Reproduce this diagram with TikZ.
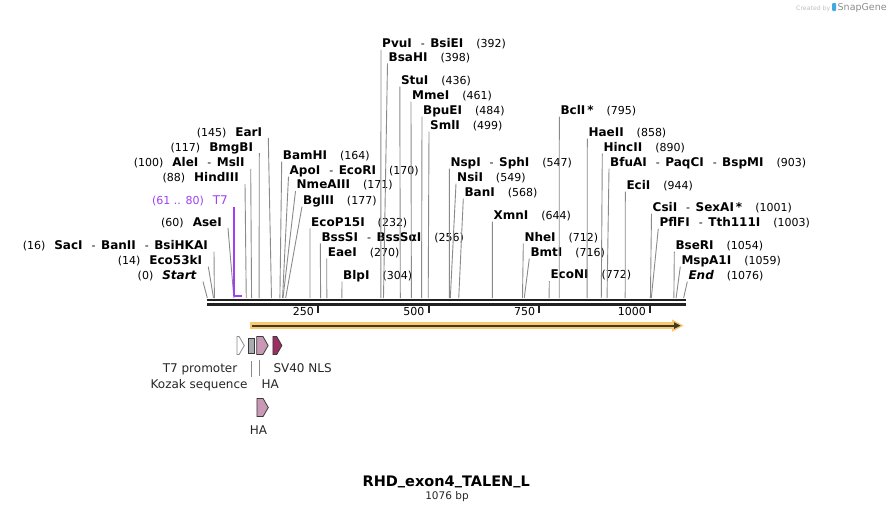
\documentclass[tikz,border=0pt]{standalone}
\usepackage{fontspec}
\setmainfont{DejaVu Sans}
\usetikzlibrary{shapes.symbols}
\definecolor{mapDark}{HTML}{222222}
\definecolor{siteGray}{HTML}{8A8A8A}
\definecolor{t7Purple}{HTML}{A040F0}
\definecolor{orfLight}{HTML}{FAC96E}
\definecolor{orfDark}{HTML}{40392E}
\definecolor{kozakGray}{HTML}{A7ACB3}
\definecolor{haPink}{HTML}{C998B4}
\definecolor{nlsPlum}{HTML}{9B2D63}
\definecolor{featEdge}{HTML}{3A3A3A}
\definecolor{labelText}{HTML}{262626}
\definecolor{snapBlue}{HTML}{3FA9E0}
\newcommand{\numf}{\mdseries\fontsize{11}{13}\selectfont}
\newcommand{\dsep}{\hspace{9pt}{\numf -}\hspace{5.5pt}}
\newcommand{\posr}[1]{\hspace{13pt}{\numf(#1)}}
\newcommand{\posl}[1]{{\numf(#1)}\hspace{9pt}}
\newcommand{\usc}{\raisebox{2.2pt}{\_}}

\begin{document}
\begin{tikzpicture}[x=1pt, y=-1pt,
    en/.style={font=\bfseries\fontsize{12}{14}\selectfont, inner ysep=0pt,
      text height=9pt, text depth=2pt},
    rs/.style={en, anchor=base west, inner xsep=1pt},
    ls/.style={en, anchor=base east, inner xsep=6pt},
    tk/.style={siteGray, line width=0.9pt},
    tick/.style={mapDark, line width=1.8pt},
    feat/.style={signal, signal to=east, signal pointer angle=120, draw=featEdge,
      line width=0.8pt, inner sep=0pt, minimum height=18pt},
    flab/.style={font=\fontsize{12}{14}\selectfont, text=labelText, inner sep=0pt}]
  \useasboundingbox (0,0) rectangle (893,512);

  % sites on the map
  \foreach \p in {0,14,16,60,88,100,117,145,164,170,171,177,232,256,270,304,
      392,398,436,461,484,499,547,549,568,644,712,716,772,795,858,890,903,944,
      1001,1003,1054,1059,1076}
    \coordinate (s\p) at ({207.3+0.44267*\p},298);

  % left labels
  \node[ls] (sta) at (203,279.4) {\posl{0}\textit{Start}};
  \node[ls] (e53) at (208.3,264.4) {\posl{14}Eco53kI};
  \node[ls] (sac) at (214,249.4) {\posl{16}SacI\dsep BanII\dsep BsiHKAI};
  \node[ls] (ase) at (228,226) {\posl{60}AseI};
  \node[ls, text=t7Purple] (t7) at (234,204.4) {\posl{61 .. 80}{\mdseries T7}};
  \node[ls] (hind) at (245,181.7) {\posl{88}HindIII};
  \node[ls] (ale) at (250.7,166.7) {\posl{100}AleI\dsep MslI};
  \node[ls] (bmg) at (259.3,151) {\posl{117}BmgBI};
  \node[ls] (ear) at (268.3,136) {\posl{145}EarI};

  % right labels
  \node[rs] (bam) at (281.7,159.4) {BamHI\posr{164}};
  \node[rs] (apo) at (288.5,174.4) {ApoI\dsep EcoRI\posr{170}};
  \node[rs] (nme) at (295.5,188.9) {NmeAIII\posr{171}};
  \node[rs] (bgl) at (302,204.4) {BglII\posr{177}};
  \node[rs] (ecop) at (310,226.1) {EcoP15I\posr{232}};
  \node[rs] (bss) at (320.3,241.1) {BssSI\dsep BssSαI\posr{256}};
  \node[rs] (eae) at (326.7,256.1) {EaeI\posr{270}};
  \node[rs] (blp) at (342,279.4) {BlpI\posr{304}};
  \node[rs] (pvu) at (381,47.7) {PvuI\dsep BsiEI\posr{392}};
  \node[rs] (bsa) at (387.5,61.1) {BsaHI\posr{398}};
  \node[rs] (stu) at (399.8,84.4) {StuI\posr{436}};
  \node[rs] (mme) at (411,99.4) {MmeI\posr{461}};
  \node[rs] (bpu) at (422,114.4) {BpuEI\posr{484}};
  \node[rs] (sml) at (429,129.4) {SmlI\posr{499}};
  \node[rs] (nsp) at (449.3,166.4) {NspI\dsep SphI\posr{547}};
  \node[rs] (nsi) at (456,181.4) {NsiI\posr{549}};
  \node[rs] (ban) at (463.3,196.4) {BanI\posr{568}};
  \node[rs] (xmn) at (492.3,219.4) {XmnI\posr{644}};
  \node[rs] (nhe) at (523.3,241.4) {NheI\posr{712}};
  \node[rs] (bmt) at (529.3,256.4) {BmtI\posr{716}};
  \node[rs] (econ) at (549.3,278.9) {EcoNI\posr{772}};
  \node[rs] (bcl) at (559.3,114.4) {BclI\,*\posr{795}};
  \node[rs] (hae) at (587.3,136.4) {HaeII\posr{858}};
  \node[rs] (hinc) at (602.3,151.4) {HincII\posr{890}};
  \node[rs] (bfu) at (609,166.4) {BfuAI\dsep PaqCI\dsep BspMI\posr{903}};
  \node[rs] (eci) at (625.3,189.4) {EciI\posr{944}};
  \node[rs] (csi) at (651.5,211.4) {CsiI\dsep SexAI\,*\posr{1001}};
  \node[rs] (pfl) at (658.3,226.4) {PflFI\dsep Tth111I\posr{1003}};
  \node[rs] (bse) at (674.3,249.4) {BseRI\posr{1054}};
  \node[rs] (msp) at (680.3,264.4) {MspA1I\posr{1059}};
  \node[rs] (fin) at (687.3,279.4) {\textit{End}\posr{1076}};

  \foreach \a/\p in {sta/0,e53/14,sac/16,ase/60,hind/88,ale/100,bmg/117,ear/145}
    \draw[tk] (\a.south east) -- (s\p);
  \foreach \a/\p in {bam/164,apo/170,nme/171,bgl/177,ecop/232,bss/256,eae/270,
      blp/304,pvu/392,bsa/398,stu/436,mme/461,bpu/484,sml/499,nsp/547,nsi/549,
      ban/568,xmn/644,nhe/712,bmt/716,econ/772,bcl/795,hae/858,hinc/890,bfu/903,
      eci/944,csi/1001,pfl/1003,bse/1054,msp/1059,fin/1076}
    \draw[tk] (\a.south west) -- (s\p);

  % T7 primer site
  \coordinate (t7a) at (234,295.7);
  \coordinate (t7b) at (242,295.7);
  \draw[t7Purple, line width=1.3pt] (t7.south east) -- (t7a);
  \draw[t7Purple, line width=2.2pt] (t7a) -- (t7b);

  % map and ruler
  \draw[mapDark, line width=2.4pt] (207,300.2) -- (686,300.2);
  \draw[mapDark, line width=3pt] (207,304.2) -- (686,304.2);
  \foreach \t in {250,500,750,1000} {
    \draw[tick] ({207.3+0.44267*\t},305.5) -- ++(0,7.2);
    \node[font=\fontsize{11}{13}\selectfont, anchor=base east, inner sep=0pt]
      (r\t) at ({203.3+0.44267*\t},315.7) {\t};
  }

  % ORF
  \fill[orfLight] (250,322.2) rectangle (676,329);
  \fill[orfLight] (672,319.4) -- (683.5,325.6) -- (672,331.8) -- cycle;
  \draw[orfDark, line width=2pt] (251.5,325.6) -- (676,325.6);
  \fill[orfDark] (674,322.2) -- (680.5,325.6) -- (674,329) -- cycle;

  % features
  \node[feat, fill=white, draw=siteGray, minimum width=7.4pt] (t7p) at (238,345.5) {};
  \node[feat, fill=haPink, minimum width=11.5pt] (ha1) at (259.8,345.5) {};
  \node[draw=featEdge, fill=kozakGray, line width=0.8pt, inner sep=0pt,
    minimum width=5.7pt, minimum height=15pt] (koz) at (251.2,346) {};
  \node[feat, fill=nlsPlum, minimum width=9pt] (nls) at (274.8,345.5) {};
  \node[feat, fill=haPink, minimum width=11.4pt] (ha2) at (260,407.5) {};

  \node[flab, anchor=base east] (t7pl) at (237.5,372.1) {T7 promoter};
  \node[flab, anchor=base east] (kozl) at (247.7,388.4) {Kozak sequence};
  \node[flab, anchor=base west] (ha1l) at (261.5,388.4) {HA};
  \node[flab, anchor=base west] (nlsl) at (273.3,372.1) {SV40 NLS};
  \node[flab, anchor=base] (ha2l) at (258.4,434.4) {HA};
  \draw[tk, line width=0.8pt] ([yshift=-7pt]koz.south) -- ++(0,16);
  \draw[tk, line width=0.8pt] ([yshift=-5.5pt]ha1.south) -- ++(0,16);

  % title
  \node[font=\bfseries\fontsize{14.5}{17}\selectfont, anchor=base]
    (ttl) at (446.2,486.6) {RHD\usc exon4\usc TALEN\usc L};
  \node[font=\fontsize{10.5}{12}\selectfont, anchor=base, text=labelText]
    (len) at (447,499.6) {1076 bp};

  % watermark
  \node[font=\fontsize{6.2}{7}\selectfont, text=black!25, anchor=base west,
    inner sep=0pt] (cby) at (796,10) {Created by};
  \node[fill=snapBlue, rounded corners=1pt, inner sep=0pt, minimum width=4pt,
    minimum height=8pt] (logo) at (834,7) {};
  \node[font=\fontsize{9.5}{11}\selectfont, text=black!45, anchor=base west,
    inner sep=0pt] (sg) at (837.5,10.6) {SnapGene};
\end{tikzpicture}
\end{document}
